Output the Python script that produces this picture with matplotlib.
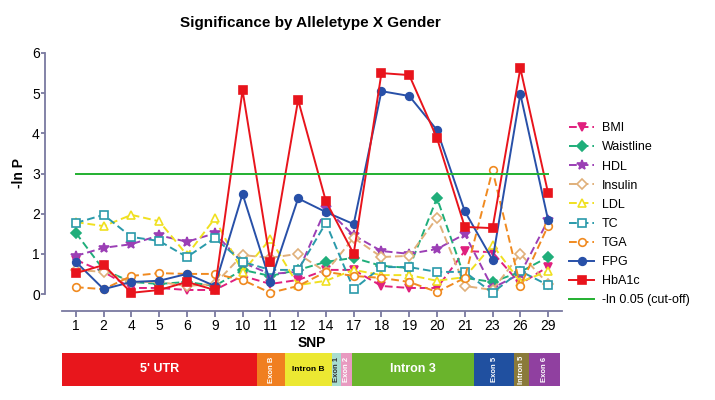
import numpy as np
import matplotlib
matplotlib.use('Agg')
import matplotlib.pyplot as plt

snps = ['1', '2', '4', '5', '6', '9', '10', '11', '12', '14', '17', '18', '19', '20', '21', '23', '26', '29']

bmi = [0.85, 0.55, 0.15, 0.15, 0.1, 0.1, 0.45, 0.25, 0.35, 0.6, 0.6, 0.2, 0.15, 0.15, 1.07, 1.04, 0.25, 0.68]
waistline = [1.52, 0.6, 0.3, 0.25, 0.3, 0.2, 0.6, 0.45, 0.6, 0.8, 0.9, 0.7, 0.65, 2.39, 0.4, 0.3, 0.55, 0.92]
hdl = [0.95, 1.15, 1.24, 1.46, 1.3, 1.51, 0.78, 0.5, 0.55, 2.13, 1.46, 1.07, 1.0, 1.12, 1.49, 0.15, 0.5, 1.84]
insulin = [0.6, 0.55, 0.3, 0.3, 0.2, 0.25, 0.97, 0.9, 1.0, 0.55, 1.4, 0.92, 0.95, 1.9, 0.2, 0.1, 1.0, 0.25]
ldl = [1.79, 1.69, 1.97, 1.81, 0.97, 1.88, 0.55, 1.37, 0.22, 0.33, 0.6, 0.47, 0.47, 0.33, 0.42, 1.22, 0.3, 0.57]
tc = [1.77, 1.97, 1.42, 1.32, 0.92, 1.39, 0.8, 0.6, 0.6, 1.77, 0.12, 0.67, 0.67, 0.55, 0.55, 0.03, 0.57, 0.22]
tga = [0.17, 0.12, 0.45, 0.52, 0.5, 0.5, 0.35, 0.03, 0.2, 0.55, 0.45, 0.4, 0.3, 0.05, 0.4, 3.08, 0.2, 1.7]
fpg = [0.8, 0.12, 0.3, 0.33, 0.5, 0.2, 2.49, 0.3, 2.38, 2.04, 1.74, 5.05, 4.93, 4.08, 2.06, 0.85, 4.98, 1.84]
hba1c = [0.52, 0.72, 0.03, 0.1, 0.3, 0.1, 5.07, 0.8, 4.83, 2.31, 1.0, 5.5, 5.45, 3.88, 1.67, 1.64, 5.62, 2.51]
cutoff = -np.log(0.05)

# gene structure: region name and span in SNP-index units
regions = ["5' UTR", 'Exon B', 'Intron B', 'Exon 1', 'Exon 2', 'Intron 3', 'Exon 5', 'Intron 5', 'Exon 6']
region_widths = [7.02, 1.01, 1.69, 0.32, 0.40, 4.40, 1.44, 0.54, 1.11]
region_colors = ['#e8161c', '#f07f20', '#ece832', '#a8dcd0', '#e89ac0', '#6ab42c', '#2050a0', '#8a7a3a', '#9040a0']

axis_col = '#7a7aa0'
plt.rcParams['font.family'] = ['Liberation Sans', 'DejaVu Sans']

fig = plt.figure(figsize=(7.15, 4.0), dpi=100)
ax = fig.add_axes([62 / 715, 1 - 294 / 400, 500 / 715, 241 / 400])
x = np.arange(len(snps))

series = [
    ('BMI', bmi, '#e0207e', 'v', '--', True),
    ('Waistline', waistline, '#1fae7a', 'D', '--', True),
    ('HDL', hdl, '#9b3fb5', '*', '--', True),
    ('Insulin', insulin, '#e0b07a', 'D', '--', False),
    ('LDL', ldl, '#f0e020', '^', '--', False),
    ('TC', tc, '#2a9aaa', 's', '--', False),
    ('TGA', tga, '#f08a20', 'o', '--', False),
    ('FPG', fpg, '#2850a8', 'o', '-', True),
    ('HbA1c', hba1c, '#e8141c', 's', '-', True),
]
for name, vals, col, mk, ls, filled in series:
    ms = 7 if mk == '*' else 5.5
    if mk == 'D':
        ms = 5
    ax.plot(x, vals, color=col, linestyle=ls, linewidth=1.4, marker=mk, markersize=ms,
            markerfacecolor=col if filled else 'white', markeredgecolor=col, markeredgewidth=1.2,
            label=name, clip_on=False, dashes=(4, 2) if ls == '--' else (None, None))
ax.plot([x[0], x[-1]], [cutoff, cutoff], color='#22b030', linewidth=1.4, label='-ln 0.05 (cut-off)')

ax.set_xlim(-0.5, len(snps) - 0.5)
ax.set_ylim(0, 6)
ax.set_xticks(x)
ax.set_xticklabels(snps, fontweight='bold', fontsize=9)
ax.set_yticks(range(7))
ax.set_yticklabels([str(v) for v in range(7)], fontweight='bold', fontsize=9)
for s in ['top', 'right']:
    ax.spines[s].set_visible(False)
ax.spines['left'].set_position(('outward', 12))
ax.spines['bottom'].set_position(('outward', 12))
ax.spines['left'].set_color(axis_col)
ax.spines['bottom'].set_color(axis_col)
ax.spines['left'].set_linewidth(1.3)
ax.spines['bottom'].set_linewidth(1.3)
ax.tick_params(colors=axis_col, labelcolor='black', length=4, width=1.3, pad=2)
ax.tick_params(axis='y', length=3, pad=1)
ax.set_xlabel('SNP', fontweight='bold', fontsize=10, labelpad=2)
ax.set_ylabel('-ln P', fontweight='bold', fontsize=10, labelpad=4)
ax.patch.set_alpha(0)

fig.text(310 / 715, 1 - 23 / 400, 'Significance by Alleletype X Gender', ha='center', va='center',
         fontsize=11, fontweight='bold')

fig.legend(loc='upper left', bbox_to_anchor=(558 / 715, 1 - 111 / 400), frameon=False, fontsize=9,
           labelspacing=0.57, handlelength=2.0, handletextpad=0.6)

# gene structure bar
gx = fig.add_axes([62 / 715, 1 - 386 / 400, 500 / 715, 33 / 400])
gx.set_xlim(-0.5, len(snps) - 0.5)
gx.set_ylim(0, 1)
gx.axis('off')
left = -0.5
for name, w, col in zip(regions, region_widths, region_colors):
    gx.barh(0.5, w, left=left, height=1, color=col, edgecolor='none')
    cx = left + w / 2
    if name in ["5' UTR", 'Intron 3']:
        gx.text(cx, 0.5, name, ha='center', va='center', color='white', fontweight='bold', fontsize=9)
    elif name == 'Intron B':
        gx.text(cx, 0.5, name, ha='center', va='center', color='black', fontweight='bold', fontsize=6)
    else:
        tc_col = '#333333' if name == 'Exon 1' else 'white'
        gx.text(cx, 0.5, name, ha='center', va='center', color=tc_col, fontweight='bold',
                fontsize=5.5, rotation=90)
    left += w

fig.savefig('out.png', dpi=100, facecolor='white')
